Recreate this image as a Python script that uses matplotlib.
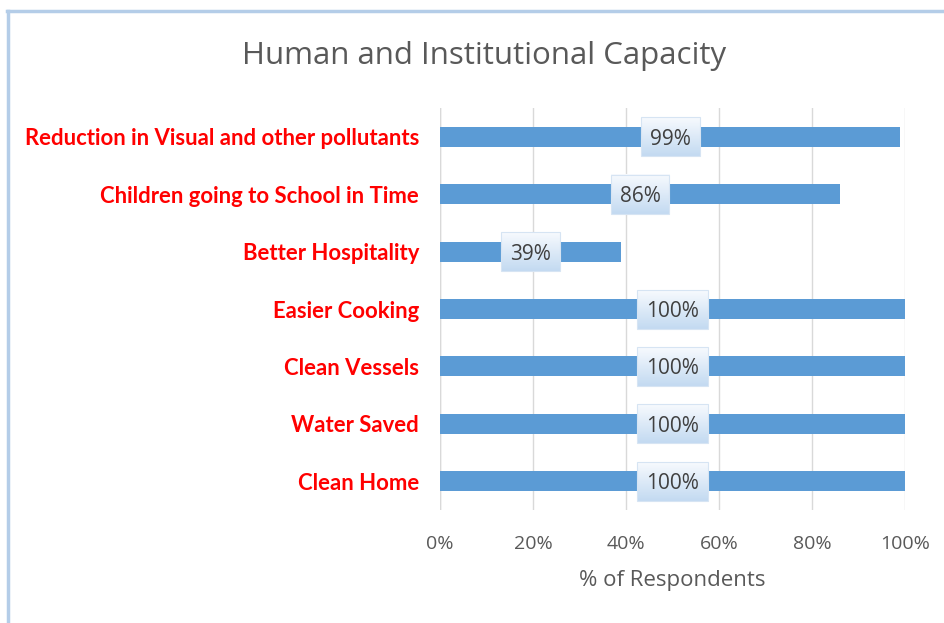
import matplotlib.pyplot as plt
import numpy as np
from matplotlib.colors import LinearSegmentedColormap
from matplotlib.lines import Line2D
from matplotlib.patches import Rectangle

categories = [
    "Reduction in Visual and other pollutants",
    "Children going to School in Time",
    "Better Hospitality",
    "Easier Cooking",
    "Clean Vessels",
    "Water Saved",
    "Clean Home",
]
values = [99, 86, 39, 100, 100, 100, 100]
xticks = [0, 20, 40, 60, 80, 100]
xtick_labels = ["0%", "20%", "40%", "60%", "80%", "100%"]

plt.rcParams["font.family"] = ["Open Sans", "DejaVu Sans"]

fig = plt.figure(figsize=(9.45, 6.23), dpi=100)
ax = fig.add_axes([0.4656, 0.1814, 0.4921, 0.6452])

ypos = list(range(len(categories)))
ax.barh(ypos, values, height=0.35, color="#5b9bd5", zorder=2)

ax.set_xlim(0, 100)
ax.set_ylim(len(categories) - 0.5, -0.5)
ax.set_xticks(xticks)
ax.set_xticklabels(xtick_labels, fontsize=14, color="#595959")
ax.set_yticks(ypos)
ax.set_yticklabels(categories, fontsize=15.9, color="#ff0000",
                   fontweight="bold", family=["Lato", "DejaVu Sans"])
ax.tick_params(axis="both", length=0)
ax.tick_params(axis="x", pad=18)
ax.tick_params(axis="y", pad=15)
ax.grid(axis="x", color="#d9d9d9", linewidth=1, zorder=0)
for s in ax.spines.values():
    s.set_visible(False)
ax.axvline(0, color="#d9d9d9", linewidth=1, zorder=1)

ax.set_xlabel("% of Respondents", fontsize=16, color="#595959", labelpad=12)
fig.text(0.512, 0.91, "Human and Institutional Capacity", ha="center",
         va="center", fontsize=22.5, color="#595959")

# value labels on gradient boxes
labels = []
for y, v in zip(ypos, values):
    t = ax.text(v / 2, y, f"{v}%", ha="center", va="center_baseline",
                fontsize=15, color="#404040", zorder=5)
    labels.append(t)

fig.canvas.draw()
grad_cmap = LinearSegmentedColormap.from_list("box", ["#f7fafe", "#c3daf1"])
grad = np.linspace(0, 1, 64).reshape(-1, 1)
inv = ax.transData.inverted()
for t, y in zip(labels, ypos):
    ext = t.get_window_extent()
    cx = (ext.x0 + ext.x1) / 2
    cy = ax.transData.transform((0, y))[1]
    w = ext.width + 18
    h = 39
    (x0, y0) = inv.transform((cx - w / 2, cy - h / 2))
    (x1, y1) = inv.transform((cx + w / 2, cy + h / 2))
    # y0 is the lower edge on screen; row 0 of grad goes to the top
    ax.imshow(grad, cmap=grad_cmap, extent=[x0, x1, y0, y1], origin="upper",
              aspect="auto", zorder=3, interpolation="bilinear")
    ax.add_patch(Rectangle((x0, y1), x1 - x0, y0 - y1, fill=False,
                           edgecolor="#d6e4f3", linewidth=0.8, zorder=4))

ax.set_xlim(0, 100)
ax.set_ylim(len(categories) - 0.5, -0.5)
ax.set_aspect("auto")

# chart frame edges
fig.add_artist(Line2D([8.5 / 945, 8.5 / 945], [0, 1 - 11 / 623],
                      transform=fig.transFigure, color="#b4cde8", linewidth=2.5))
fig.add_artist(Line2D([7 / 945, 1], [1 - 11 / 623, 1 - 11 / 623],
                      transform=fig.transFigure, color="#b4cde8", linewidth=2.5))

fig.savefig("out.png", dpi=100)
